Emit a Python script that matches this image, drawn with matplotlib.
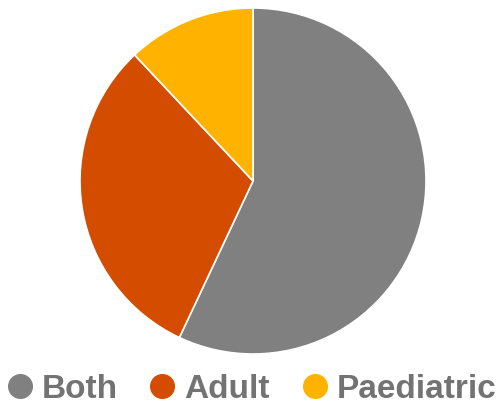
import matplotlib
matplotlib.use("Agg")
import matplotlib.pyplot as plt
from matplotlib.lines import Line2D

categories = ["Both", "Adult", "Paediatric"]
values = [57, 31, 12]
colors = ["#808080", "#D34C00", "#FFB300"]

plt.rcParams['font.family'] = ['Liberation Sans', 'DejaVu Sans']

fig = plt.figure(figsize=(4.99, 4.03), dpi=100)
ax = fig.add_axes([80/499, 49/403, 346/499, 346/403])
ax.pie(values, colors=colors, startangle=90, counterclock=False,
       wedgeprops=dict(edgecolor="white", linewidth=1.2), radius=1)
ax.set_xlim(-1, 1)
ax.set_ylim(-1, 1)
ax.set_aspect('equal')
ax.axis('off')

handles = [Line2D([0], [0], marker='o', linestyle='', markersize=17,
                  markerfacecolor=c, markeredgecolor=c) for c in colors]
fig.legend(handles, categories, loc='center', bbox_to_anchor=(252/499, 14/403),
           ncol=3, frameon=False, prop=dict(size=24, weight='bold'),
           labelcolor='#737373', handletextpad=0.3, columnspacing=1.0,
           handlelength=0.7, borderpad=0, borderaxespad=0)

fig.savefig("out.png", dpi=100)
